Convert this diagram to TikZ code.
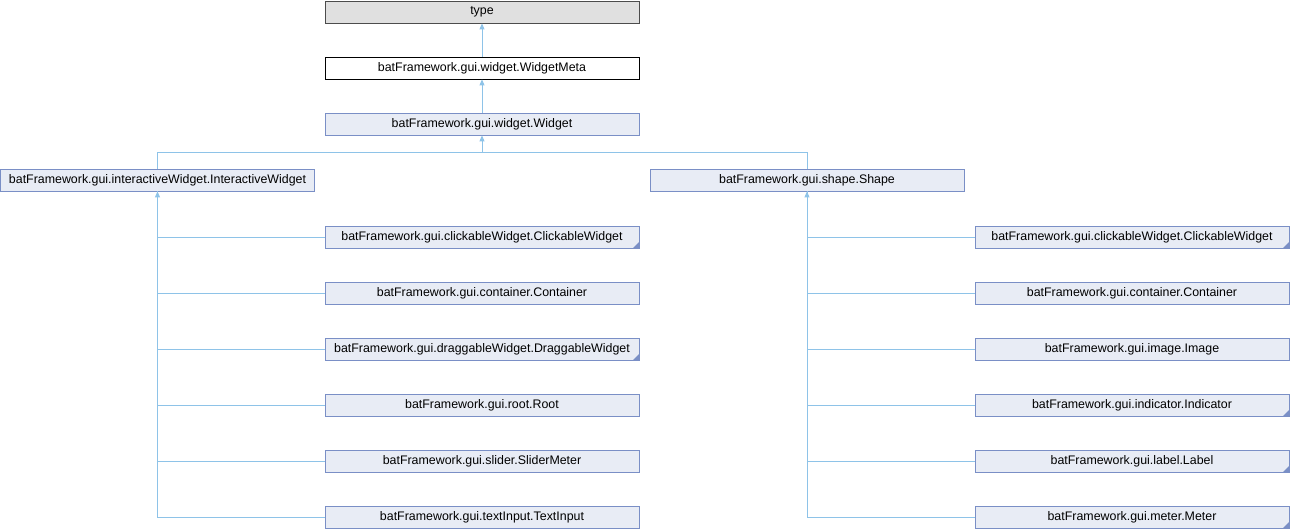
\documentclass[tikz,border=0pt]{standalone}
\usepackage{fontspec}
\setmainfont{Liberation Sans}
\usetikzlibrary{arrows.meta}

\definecolor{boxfill}{HTML}{E8ECF5}
\definecolor{boxline}{HTML}{7A8FC6}
\definecolor{edgeblue}{HTML}{8EC3E8}
\definecolor{typefill}{HTML}{E0E0E0}

\begin{document}
\begin{tikzpicture}[x=1pt, y=-1pt,
    every node/.style={rectangle, draw=boxline, fill=boxfill, line width=0.8pt,
        minimum width=314pt, minimum height=22pt, inner sep=0pt,
        font=\fontsize{12.4}{14}\selectfont},
    edge/.style={draw=edgeblue, line width=0.9pt},
    trunc/.style={path picture={\fill[boxline] (path picture bounding box.south east)
        -- ++(-6pt,0) -- ++(6pt,6pt) -- cycle;}},
    inh/.style={{Triangle[width=5pt, length=6pt, fill=edgeblue]}-}]
    \useasboundingbox (0,0) rectangle (1290,528);

    \node[draw=black!70, fill=typefill] (type) at (482, 12) {type};
    \node[draw=black, fill=white] (meta) at (482, 68) {batFramework.gui.widget.WidgetMeta};
    \node (widget) at (482, 124) {batFramework.gui.widget.Widget};
    \node (iw) at (157.5, 180) {batFramework.gui.interactiveWidget.InteractiveWidget};
    \node (shape) at (807, 180) {batFramework.gui.shape.Shape};

    % children of InteractiveWidget
    \node[trunc] (lclick) at (482, 237) {batFramework.gui.clickableWidget.ClickableWidget};
    \node (lcont) at (482, 293) {batFramework.gui.container.Container};
    \node[trunc] (ldrag) at (482, 349) {batFramework.gui.draggableWidget.DraggableWidget};
    \node (lroot) at (482, 405) {batFramework.gui.root.Root};
    \node (lslider) at (482, 461) {batFramework.gui.slider.SliderMeter};
    \node (ltext) at (482, 517) {batFramework.gui.textInput.TextInput};

    % children of Shape
    \node[trunc] (rclick) at (1132, 237) {batFramework.gui.clickableWidget.ClickableWidget};
    \node (rcont) at (1132, 293) {batFramework.gui.container.Container};
    \node (rimage) at (1132, 349) {batFramework.gui.image.Image};
    \node[trunc] (rind) at (1132, 405) {batFramework.gui.indicator.Indicator};
    \node[trunc] (rlabel) at (1132, 461) {batFramework.gui.label.Label};
    \node[trunc] (rmeter) at (1132, 517) {batFramework.gui.meter.Meter};

    \draw[edge, inh] (type) -- (meta);
    \draw[edge, inh] (meta) -- (widget);

    \coordinate (split) at (482, 152);
    \draw[edge, inh] (widget) -- (split) -| (iw);
    \draw[edge] (split) -| (shape);

    \draw[edge, inh] (iw) |- (ltext);
    \draw[edge] (iw) |- (lclick);
    \draw[edge] (iw) |- (lcont);
    \draw[edge] (iw) |- (ldrag);
    \draw[edge] (iw) |- (lroot);
    \draw[edge] (iw) |- (lslider);

    \draw[edge, inh] (shape) |- (rmeter);
    \draw[edge] (shape) |- (rclick);
    \draw[edge] (shape) |- (rcont);
    \draw[edge] (shape) |- (rimage);
    \draw[edge] (shape) |- (rind);
    \draw[edge] (shape) |- (rlabel);
\end{tikzpicture}
\end{document}
